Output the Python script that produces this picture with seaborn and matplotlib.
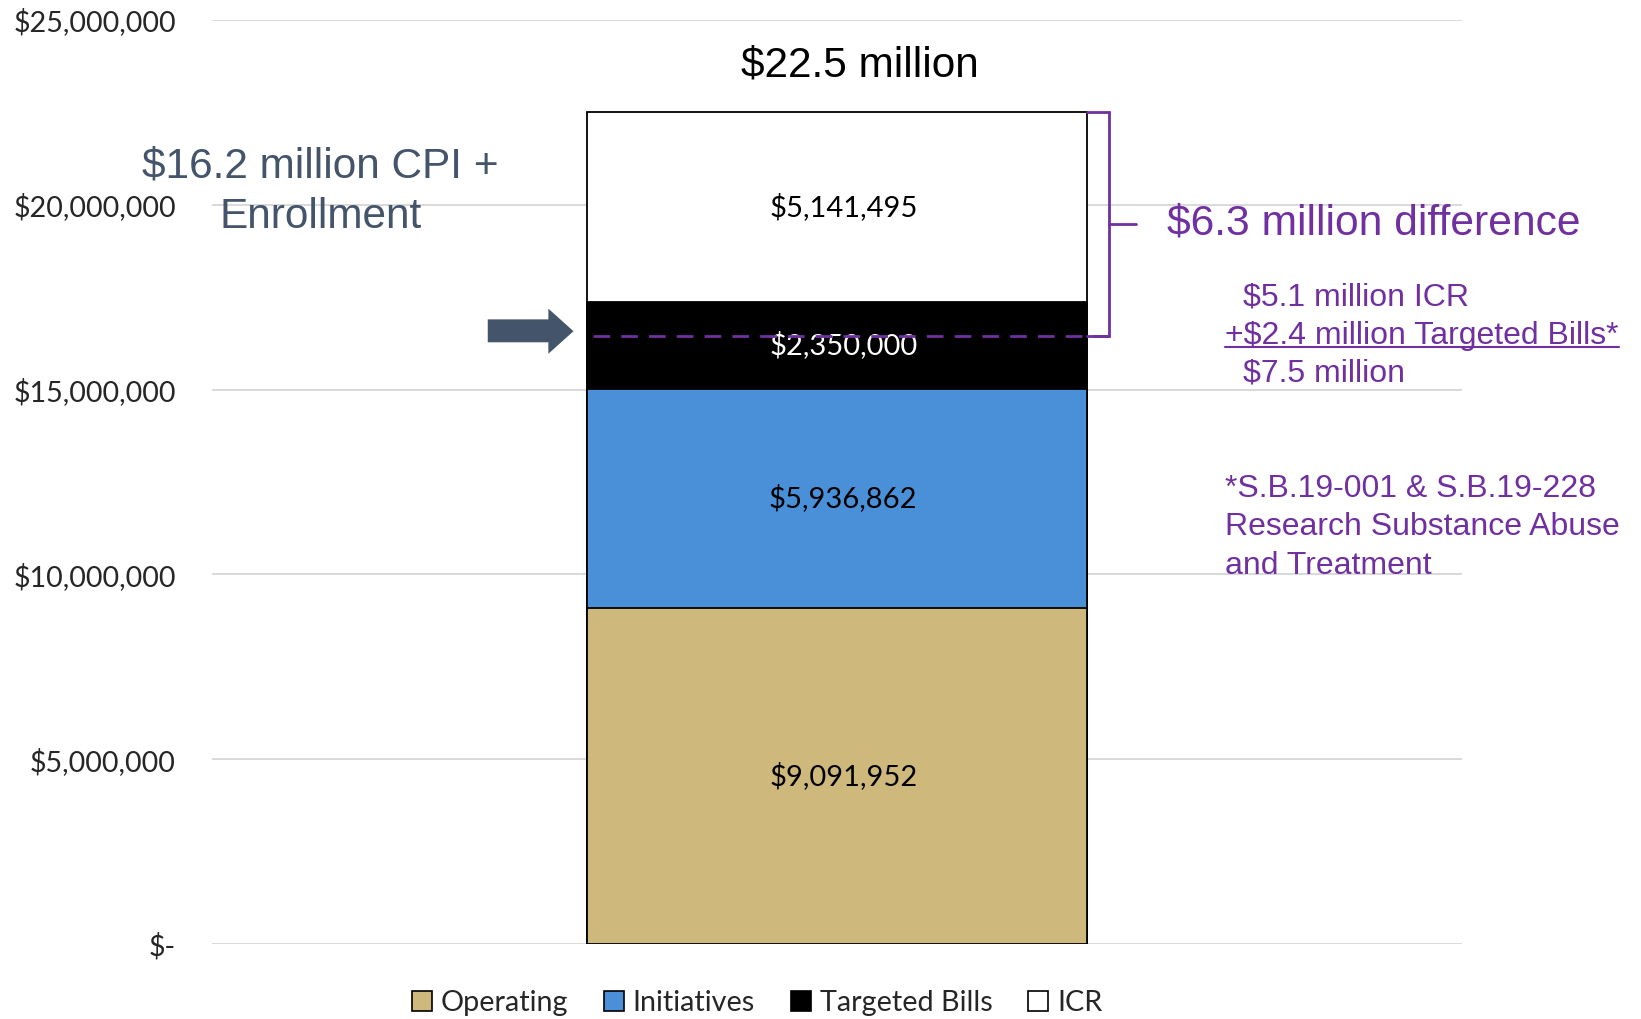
import matplotlib
matplotlib.use("Agg")
import matplotlib.pyplot as plt
import seaborn as sns
import numpy as np
import pandas as pd
from matplotlib.patches import Patch, Polygon
from matplotlib.lines import Line2D

# ---------------- data ----------------
categories = ["Operating", "Initiatives", "Targeted Bills", "ICR"]
values = [9091952, 5936862, 2350000, 5141495]
colors = ["#CFB87C", "#4A90D9", "#000000", "#FFFFFF"]
label_colors = ["black", "black", "white", "black"]
bar_name = ["Total"]
yticks = [0, 5_000_000, 10_000_000, 15_000_000, 20_000_000, 25_000_000]
ytick_labels = ["$-", "$5,000,000", "$10,000,000", "$15,000,000", "$20,000,000", "$25,000,000"]
title_text = "$22.5 million"
cpi_lines = ["$16.2 million CPI +", "Enrollment"]
cpi_line_levels = [21_030_000, 19_680_000]
cpi_level = 16_450_000
diff_text = "$6.3 million difference"
calc_lines = ["$5.1 million ICR", "+$2.4 million Targeted Bills*", "$7.5 million"]
calc_levels = [17_500_000, 16_450_000, 15_430_000]
footnote_lines = ["*S.B.19-001 & S.B.19-228", "Research Substance Abuse", "and Treatment"]
footnote_levels = [12_320_000, 11_270_000, 10_220_000]

# ---------------- style ----------------
sns.set_theme(style="white")
plt.rcParams["font.family"] = ["Lato", "DejaVu Sans"]
plt.rcParams["text.parse_math"] = False

PURPLE = "#7030A0"
SLATE = "#44546A"
ARIAL = ["Liberation Sans", "DejaVu Sans"]

fig = plt.figure(figsize=(16.41, 10.19), dpi=100)
ax = fig.add_axes([212 / 1641, 1 - 944 / 1019, 1250 / 1641, 924 / 1019])

# stacked bar via seaborn overlays (tallest first)
cum = np.cumsum(values)
bottoms = cum - np.array(values)
for i in reversed(range(len(values))):
    df = pd.DataFrame({"bar": bar_name, "value": [cum[i]]})
    sns.barplot(data=df, x="bar", y="value", color=colors[i], saturation=1,
                width=0.4, edgecolor="black", linewidth=1.3, ax=ax, zorder=2)

for i, v in enumerate(values):
    ax.text(0.005, bottoms[i] + v / 2, f"${v:,.0f}", ha="center", va="center",
            fontsize=21, color=label_colors[i], zorder=5)

ax.set_xlim(-0.5, 0.5)
ax.set_ylim(0, 25_000_000)
ax.set_yticks(yticks)
ax.set_yticklabels(ytick_labels, fontsize=20.7)
ax.tick_params(axis="y", length=0, pad=26)
ax.set_xticks([])
ax.set_xlabel("")
ax.set_ylabel("")
ax.grid(axis="y", color="#D9D9D9", linewidth=1.4, zorder=0)
ax.set_axisbelow(True)
for s in ax.spines.values():
    s.set_visible(False)

# title over bar
ax.text(0.018, 23_780_000, title_text, ha="center", va="center", fontsize=30.5,
        family=ARIAL, color="black")

# CPI text and arrow
for t, y in zip(cpi_lines, cpi_line_levels):
    ax.text(-0.413, y, t, ha="center", va="center", fontsize=30.5,
            family=ARIAL, color=SLATE)
arrow_pts = [(-0.2794, 16_900_000), (-0.2309, 16_900_000), (-0.2309, 17_190_000),
             (-0.2108, 16_580_000), (-0.2309, 15_970_000), (-0.2309, 16_280_000),
             (-0.2794, 16_280_000)]
ax.add_patch(Polygon(arrow_pts, closed=True, facecolor=SLATE, edgecolor="none", zorder=4))

# dashed line + bracket
total = cum[-1]
bx = 0.2176
ax.plot([-0.195, bx], [cpi_level, cpi_level], color=PURPLE, lw=2, ls=(0, (6, 4)), zorder=6)
ax.plot([0.2, bx, bx, 0.2], [total, total, cpi_level, cpi_level], color=PURPLE, lw=2,
        zorder=6, solid_joinstyle="miter")
mid = (total + cpi_level) / 2
ax.plot([bx, 0.239], [mid, mid], color=PURPLE, lw=2, zorder=6)
ax.text(0.264, mid, diff_text, ha="left", va="center", fontsize=30.7, family=ARIAL,
        color=PURPLE)

# calculation lines
calc_x = [0.325, 0.3105, 0.325]
calc_texts = []
for t, y, x in zip(calc_lines, calc_levels, calc_x):
    calc_texts.append(ax.text(x, y, t, ha="left", va="center", fontsize=23,
                              family=ARIAL, color=PURPLE))
for t, y in zip(footnote_lines, footnote_levels):
    ax.text(0.3105, y, t, ha="left", va="center", fontsize=23, family=ARIAL,
            color=PURPLE)

# legend
handles = [Patch(facecolor=c, edgecolor="black", linewidth=1.2) for c in colors]
fig.legend(handles, categories, loc="center", bbox_to_anchor=(757 / 1641, 1 - 1003 / 1019),
           ncol=4, frameon=False, fontsize=20.7, handlelength=0.7, handleheight=0.7,
           handletextpad=0.3, columnspacing=1.25)

# underline for the middle calc line
fig.canvas.draw()
renderer = fig.canvas.get_renderer()
bb = calc_texts[1].get_window_extent(renderer)
inv = fig.transFigure.inverted()
(x0, y0), (x1, _) = inv.transform([(bb.x0, bb.y0 + 4), (bb.x1, bb.y0 + 4)])
fig.add_artist(Line2D([x0, x1], [y0, y0], color=PURPLE, lw=1.5))

fig.savefig("out.png", dpi=100)
